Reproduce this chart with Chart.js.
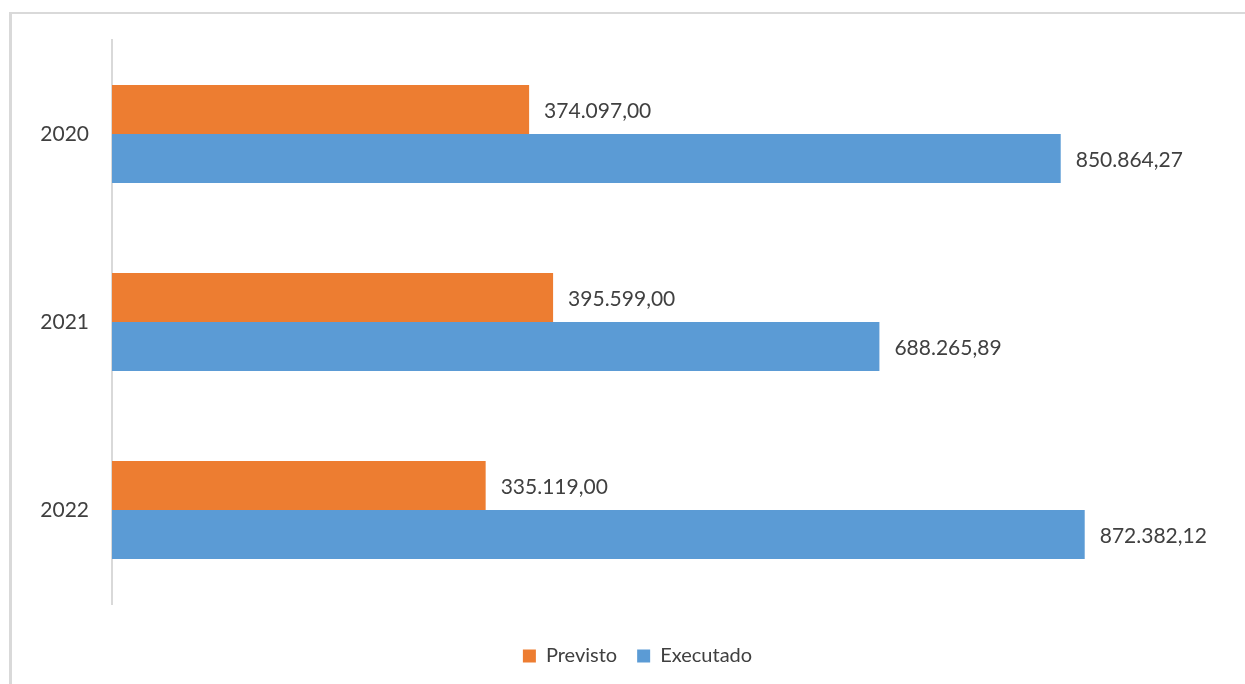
<!DOCTYPE html>
<html lang="pt-BR">
<head>
<meta charset="utf-8">
<title>Previsto x Executado</title>
<script src="https://cdn.jsdelivr.net/npm/chart.js@4/dist/chart.umd.min.js"></script>
<style>
  html, body { margin: 0; padding: 0; background: #fff; }
  .frame {
    position: absolute; left: 9px; top: 12px; right: -10px; bottom: -10px;
    border-left: 3px solid #d9d9d9; border-top: 2px solid #d9d9d9;
  }
  .wrap { position: absolute; left: 0; top: 0; width: 1245px; height: 684px; }
</style>
</head>
<body>
<div class="frame"></div>
<div class="wrap"><canvas id="chart" width="1245" height="684"></canvas></div>
<script>
// anos e valores (R$)
const anos = ['2020', '2021', '2022'];
const previsto = [374097.00, 395599.00, 335119.00];
const executado = [850864.27, 688265.89, 872382.12];

const corTexto = '#404040';
const fonte = 'Lato, "Open Sans", sans-serif';

function formatarValor(v) {
  return v.toLocaleString('pt-BR', { minimumFractionDigits: 2, maximumFractionDigits: 2 });
}

// escreve o valor à direita de cada barra
const rotulosBarras = {
  id: 'rotulosBarras',
  afterDatasetsDraw(chart) {
    const ctx = chart.ctx;
    ctx.save();
    ctx.font = '21px ' + fonte;
    ctx.fillStyle = corTexto;
    ctx.textAlign = 'left';
    ctx.textBaseline = 'middle';
    chart.data.datasets.forEach((ds, i) => {
      chart.getDatasetMeta(i).data.forEach((bar, j) => {
        ctx.fillText(formatarValor(ds.data[j]), bar.x + 15, bar.y + 2);
      });
    });
    ctx.restore();
  }
};

// empurra a legenda um pouco para a direita
const deslocaLegenda = {
  id: 'deslocaLegenda',
  afterLayout(chart) {
    if (chart.legend) {
      chart.legend.left += 24;
      chart.legend.right += 24;
    }
  }
};

const ctx = document.getElementById('chart').getContext('2d');
const grafico = new Chart(ctx, {
  type: 'bar',
  data: {
    labels: anos,
    datasets: [
      {
        label: 'Previsto',
        data: previsto,
        backgroundColor: '#ED7D31',
        categoryPercentage: 0.52,
        barPercentage: 1.0
      },
      {
        label: 'Executado',
        data: executado,
        backgroundColor: '#5B9BD5',
        categoryPercentage: 0.52,
        barPercentage: 1.0
      }
    ]
  },
  options: {
    indexAxis: 'y',
    responsive: false,
    animation: false,
    layout: { padding: { top: 40, right: 18, bottom: 8, left: 0 } },
    scales: {
      // eixo de valores invisível, só reserva o espaço acima da legenda
      x: {
        display: true, min: 0, max: 1000000,
        grid: { display: false },
        border: { display: false },
        ticks: { display: false },
        afterFit(scale) { scale.height = 22; }
      },
      y: {
        grid: { display: false },
        border: { display: true, color: '#d9d9d9', width: 2 },
        ticks: { color: corTexto, font: { family: fonte, size: 21 }, padding: 15 },
        afterFit(scale) { scale.width = 112; }
      }
    },
    plugins: {
      legend: {
        position: 'bottom',
        labels: {
          color: corTexto,
          font: { family: fonte, size: 20 },
          boxWidth: 13,
          boxHeight: 13,
          padding: 20
        }
      },
      tooltip: { enabled: false }
    }
  },
  plugins: [rotulosBarras, deslocaLegenda]
});
</script>
</body>
</html>
